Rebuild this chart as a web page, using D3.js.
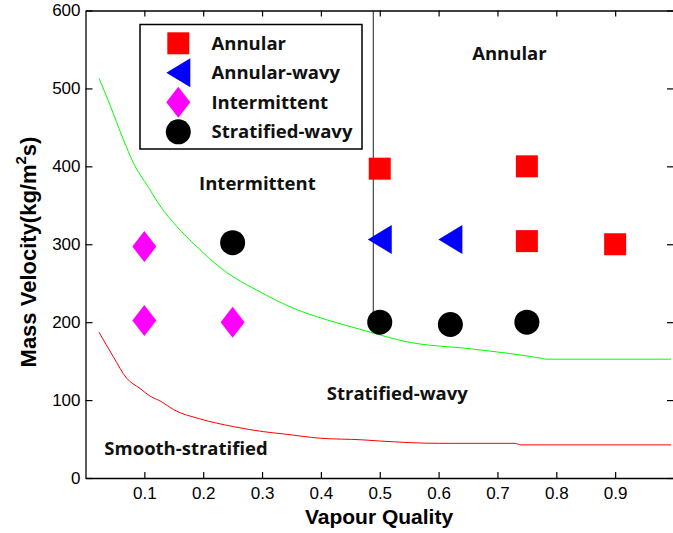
<!DOCTYPE html>
<html>
<head>
<meta charset="utf-8">
<script src="https://cdn.jsdelivr.net/npm/d3@7"></script>
<style>
	body { margin: 0; background: #fff; }
	.tick text { font-family: 'Liberation Sans', Arial, sans-serif; font-size: 17px; fill: #000; }
	.region { font-family: 'Open Sans', sans-serif; font-weight: bold; font-size: 18.5px; fill: #111; }
</style>
</head>
<body>
<div class="container-viewer"></div>
<script>
//* DATOS *//
// Frontera Intermittent / Stratified-wavy (curva verde)
const greenX = [0.023, 0.042, 0.064, 0.081, 0.107, 0.127, 0.155, 0.189, 0.229, 0.3, 0.353, 0.41, 0.466, 0.489, 0.545, 0.658, 0.772, 0.783, 0.995];
const greenY = [513, 478, 435, 405, 373, 349, 323, 297, 270, 237.5, 218, 203, 191, 186, 175, 165.5, 154, 152.5, 152.5];
// Frontera Stratified-wavy / Smooth-stratified (curva roja)
const redX = [0.023, 0.047, 0.07, 0.0925, 0.11, 0.129, 0.149, 0.194, 0.251, 0.302, 0.336, 0.4, 0.47, 0.5, 0.6, 0.73, 0.74, 0.995];
const redY = [187, 156, 128, 115, 105, 98, 88, 76, 66, 59.5, 56.6, 51, 49, 47.5, 44.5, 44.5, 42.5, 42.5];
// Frontera vertical Intermittent / Annular
const transitionX = 0.489;
const transitionY = [187, 600];

// Puntos experimentales
const annularX = [0.5, 0.75, 0.75, 0.9];
const annularY = [397, 400, 304, 300];
const annularWavyX = [0.5, 0.62];
const annularWavyY = [306, 306];
const intermittentX = [0.1, 0.1, 0.25];
const intermittentY = [297, 202, 200];
const stratifiedWavyX = [0.25, 0.5, 0.62, 0.75];
const stratifiedWavyY = [302, 200, 197, 200];

const xTicks = [0.1, 0.2, 0.3, 0.4, 0.5, 0.6, 0.7, 0.8, 0.9];
const yTicks = [0, 100, 200, 300, 400, 500, 600];
const legendNames = ['Annular', 'Annular-wavy', 'Intermittent', 'Stratified-wavy'];

//* DIBUJO *//
const width = 673;
const height = 533;
const plotLeft = 85.5, plotRight = 674, plotTop = 10.5, plotBottom = 478;

const svg = d3.select('.container-viewer').append('svg').attr('width', width).attr('height', height);

const x = d3.scaleLinear().domain([0, 1]).range([plotLeft, plotRight]);
const y = d3.scaleLinear().domain([0, 600]).range([plotBottom, plotTop]);

// Formas de los marcadores (como en matlab: s, <, d, o)
const shapes = {
	square: 'M-11,-11h22v22h-22Z',
	triangle: 'M-12,0L12,-14.5L12,14.5Z',
	diamond: 'M0,-15.5L12,0L0,15.5L-12,0Z',
	circle: d3.symbol().type(d3.symbolCircle).size(Math.PI * 12.5 * 12.5)(),
};
const series = [
	{ name: legendNames[0], xs: annularX, ys: annularY, shape: 'square', color: '#ff0000' },
	{ name: legendNames[1], xs: annularWavyX, ys: annularWavyY, shape: 'triangle', color: '#0000ff' },
	{ name: legendNames[2], xs: intermittentX, ys: intermittentY, shape: 'diamond', color: '#ff00ff' },
	{ name: legendNames[3], xs: stratifiedWavyX, ys: stratifiedWavyY, shape: 'circle', color: '#000000' },
];

// Ejes (ticks hacia dentro)
const fmt = d3.format('.1f');
svg.append('g').attr('transform', `translate(0,${plotBottom})`)
	.call(d3.axisBottom(x).tickValues(xTicks).tickFormat(fmt).tickSizeInner(-6).tickSizeOuter(0).tickPadding(9));
svg.append('g').attr('transform', `translate(0,${plotTop})`)
	.call(d3.axisTop(x).tickValues(xTicks).tickFormat('').tickSizeInner(-6).tickSizeOuter(0));
svg.append('g').attr('transform', `translate(${plotLeft},0)`)
	.call(d3.axisLeft(y).tickValues(yTicks).tickSizeInner(-7).tickSizeOuter(0).tickPadding(5));
svg.append('g').attr('transform', `translate(${plotRight},0)`)
	.call(d3.axisRight(y).tickValues(yTicks).tickFormat('').tickSizeInner(-7).tickSizeOuter(0));
svg.selectAll('.domain').attr('stroke', '#000').attr('stroke-width', 1.3);
svg.selectAll('.tick line').attr('stroke', '#000').attr('stroke-width', 1.2);

// Curvas de transicion
const line = d3.line().curve(d3.curveMonotoneX).x((d) => x(d[0])).y((d) => y(d[1]));
svg.append('path').datum(greenX.map((v, i) => [v, greenY[i]]))
	.attr('d', line).attr('fill', 'none').attr('stroke', '#00ff00').attr('stroke-width', 1);
svg.append('path').datum(redX.map((v, i) => [v, redY[i]]))
	.attr('d', line).attr('fill', 'none').attr('stroke', '#ff0000').attr('stroke-width', 1);
svg.append('line')
	.attr('x1', x(transitionX)).attr('x2', x(transitionX))
	.attr('y1', y(transitionY[0])).attr('y2', y(transitionY[1]))
	.attr('stroke', '#222').attr('stroke-width', 1);

// Puntos
series.forEach((s) => {
	svg.append('g').selectAll('path')
		.data(s.xs.map((v, i) => [v, s.ys[i]]))
		.enter().append('path')
		.attr('d', shapes[s.shape])
		.attr('transform', (d) => `translate(${x(d[0])},${y(d[1])})`)
		.attr('fill', s.color);
});

// Etiquetas de regiones
const regions = [
	['Annular', 0.657, 536],
	['Intermittent', 0.193, 370],
	['Stratified-wavy', 0.41, 100],
	['Smooth-stratified', 0.032, 30],
];
svg.selectAll('.region').data(regions).enter().append('text')
	.attr('class', 'region')
	.attr('x', (d) => x(d[1])).attr('y', (d) => y(d[2]))
	.text((d) => d[0]);

// Leyenda
const legend = svg.append('g');
legend.append('rect').attr('x', 140).attr('y', 24.5).attr('width', 222).attr('height', 124.5)
	.attr('fill', '#fff').attr('stroke', '#000').attr('stroke-width', 1.5);
series.forEach((s, i) => {
	const cy = 43.3 + i * 29.5;
	legend.append('path').attr('d', shapes[s.shape]).attr('transform', `translate(178.3,${cy})`).attr('fill', s.color);
	legend.append('text').attr('class', 'region').attr('x', 211.5).attr('y', cy).attr('dy', '0.35em').text(s.name);
});

// Titulos de ejes
svg.append('text')
	.attr('x', 379).attr('y', 524).attr('text-anchor', 'middle')
	.attr('font-family', 'Liberation Sans, Arial, sans-serif').attr('font-weight', 'bold').attr('font-size', 21)
	.text('Vapour Quality');
const yTitle = svg.append('text')
	.attr('transform', 'translate(36,252) rotate(-90)').attr('text-anchor', 'middle')
	.attr('font-family', 'Liberation Sans, Arial, sans-serif').attr('font-weight', 'bold').attr('font-size', 22);
yTitle.append('tspan').text('Mass Velocity(kg/m');
yTitle.append('tspan').attr('font-size', 15).attr('dy', -10).text('2');
yTitle.append('tspan').attr('dy', 10).text('s)');
</script>
</body>
</html>
